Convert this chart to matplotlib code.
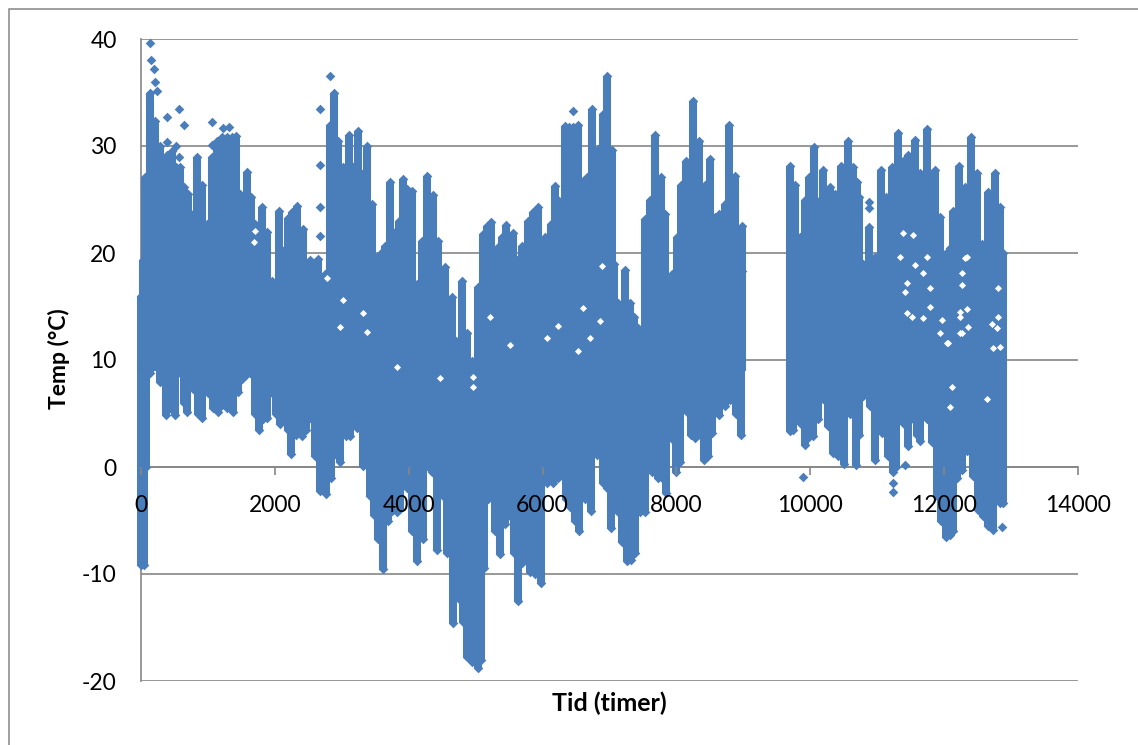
import matplotlib
matplotlib.use('Agg')
import matplotlib.pyplot as plt
from matplotlib.patches import Rectangle
import numpy as np

#warm side of the cloud
warm_hours = [0,30,60,135,210,285,330,390,465,525,585,640,700,775,835,910,985,1060,1135,1210,1285,1360,1420,1480,1585,1645,1705,1810,1880,1955,2060,2120,2195,2255,2330,2420,2525,2585,2645,2750,2825,2885,2945,3020,3110,3165,3240,3300,3375,3450,3525,3585,3645,3720,3795,3855,3915,3975,4050,4125,4200,4275,4365,4435,4540,4645,4705,4795,4870,4945,5035,5110,5170,5230,5335,5395,5455,5560,5615,5690,5780,5855,5930,6035,6125,6185,6245,6335,6395,6455,6530,6605,6665,6740,6830,6900,6960,7035,7065,7125,7230,7305,7365,7425,7530,7605,7680,7770,7830,7935,8010,8070,8140,8245,8335,8425,8500,8575,8635,8725,8785,8875,8980,
              9695,9770,9845,9920,9980,10055,10130,10190,10295,10370,10460,10565,10640,10695,10730,10785,10875,10965,11055,11130,11220,11310,11385,11460,11565,11640,11745,11860,11935,12010,12085,12130,12220,12310,12400,12490,12565,12655,12760,12835,12880]
warm_temp = [16,19.3,27.1,35,32.3,30,26.7,29.2,29.5,28,28,26.2,25.5,23.6,29,26.4,22.7,29,30.5,30.8,30.8,30.8,30.9,25.5,27.6,25.2,22.7,24.3,22,17.4,23.9,20.2,23.3,23.8,24.4,22.2,19.3,18.5,19.4,18,32,35,30.5,28,31,28,31.4,27.4,30,24.6,19.6,20,20.7,26.6,22,23,26.9,26,25.8,17.1,21.1,27.2,25.4,21.1,18.7,15.9,11.8,17.4,12.5,9.9,16.8,21.8,22.5,22.9,20.6,21.5,22.6,21.9,19.3,20.7,23,23.8,24.3,21.5,22.7,26.3,24.9,31.9,31.8,31.8,32,26.7,27.1,33.5,29.7,33,36.5,29.6,19,15.3,18.4,15.3,14,13,23.2,25,31,27.1,23.6,18,21.5,26.4,28.6,34.2,30.5,26.4,28.8,23.4,23.6,24.6,32,27.2,22.5,
             28.1,26.4,21.5,25,27.1,29.9,24.9,27.8,26.2,25.5,28.1,30.5,28,26.6,25.2,19,22.4,19.6,27.8,25.2,28,31.2,28.6,29.2,30.6,27.5,31.6,27.8,23.4,19.9,20.5,23.9,28.1,26.2,30.8,27.5,20.8,25.7,27.5,24.3,20]

#cold side
cold_hours = [0,45,75,135,210,285,375,435,510,585,640,690,775,850,910,1000,1075,1150,1210,1285,1375,1450,1510,1570,1630,1705,1765,1825,1880,1970,2015,2075,2150,2195,2240,2315,2405,2465,2525,2600,2675,2765,2840,2900,2975,3060,3120,3225,3315,3420,3480,3540,3615,3690,3750,3825,3870,3975,4050,4125,4215,4275,4350,4420,4510,4570,4660,4765,4810,4870,4945,5035,5080,5125,5185,5290,5365,5440,5515,5575,5630,5690,5735,5810,5885,5975,6065,6155,6230,6290,6350,6410,6485,6545,6635,6725,6815,6900,6960,7020,7125,7185,7260,7320,7380,7455,7530,7635,7725,7785,7845,7935,7995,8055,8155,8215,8275,8350,8410,8470,8530,8635,8725,8800,8890,8965,
              9695,9740,9785,9860,9920,9980,10040,10115,10190,10265,10340,10415,10505,10590,10680,10730,10785,10890,10965,11070,11160,11230,11280,11340,11400,11460,11530,11590,11640,11745,11815,11890,11950,12025,12085,12130,12190,12265,12340,12430,12505,12580,12655,12730,12790,12835,12880]
cold_temp = [-9.2,-9.2,0,8.8,9.7,7.9,4.9,5.5,4.9,8.8,6,5.1,7.3,5,4.6,6.9,5.5,5.1,5.8,5.5,5.1,7,8.2,8.6,8.8,5,3.5,4.5,4.6,6.8,5,4,6,3.5,1.2,3,2.9,3.5,4.6,1,-2.2,-2.5,-1,1.2,0.5,2.9,2.9,3.6,0.1,-2.7,-4.5,-6.7,-9.5,-5,-4.1,-4.2,-3.9,-2,-6,-8.8,-6.7,0.1,-0.5,-7.8,-2.7,-8,-14.6,-12.4,-14.5,-17.8,-18.2,-18.8,-18,-9.4,-3,-6,-8.1,-5.3,-4.6,-8,-12.5,-9,-5.3,-9.8,-10,-10.8,-1.5,-1.5,-1,-0.7,-3,-3.7,-5,-6,-3,-4.1,1.1,-1.5,-2,-5.7,-4.2,-7,-8.8,-8.7,-8,-4.2,-4.2,-0.5,-1,-1,-2.4,2.6,-0.5,0.5,5.1,3,2.7,3,0.7,1,3.2,4.9,5.7,6.3,5,3,
             3.4,3.5,8,4,2.1,2.8,2.9,4.5,6.4,3.8,1.3,1,0.3,5,0.2,3,6.6,5.7,0.7,3.2,1,-0.5,0,5.4,4,2,4.5,3,2.4,4.5,2.3,-2.7,-5,-6.5,-6.4,-6,-1,-0.3,1.5,-0.8,-4,-4.6,-5.5,-5.9,2,-3.4,-3.4]

#single readings standing clear of the cloud
lone_hours = [135,150,195,210,240,570,390,640,1060,390,525,570,1060,1225,1315,2675,2675,2675,2675,2825,6455,6740,8980,10875,10875,9890,11230,11230,11415,12865]
lone_temp = [39.6,38,37.2,36,35.1,33.5,32.7,32,32.2,30.4,30,29,30.1,31.7,31.8,33.5,28.2,24.3,21.6,36.5,33.3,29,18.3,24.8,24.2,-0.9,-1.5,-2.3,0.2,-5.6]

#holes inside the cloud
hole_hours = [11530,11565,11440,11785,11415,11440,11685,12235,12340,12265,12310,12265,12265,12805,12790,12115,12085,12640,12730,12055,6885,6065,6230,6860,5515,6530,6710,6605,5215,4960,4960,4465,3020,3315,2975,2780,1705,1690,3375,3825,
              11385,11745,11340,11685,11785,11515,11965,11935,12340,12235,12355,12715,12835,12235,12040,12805]
hole_temp = [21.7,18.9,17.2,16.7,16.4,14.4,13.9,14.5,14.8,12.5,19.5,18.1,17,14,13,7.5,5.6,6.4,11.1,11.6,18.8,12.1,13.2,13.6,11.4,10.8,12.1,14.9,14,8.4,7.5,8.3,15.6,14.4,13.1,17.7,22.1,21,12.6,9.3,
             21.9,19.6,19.6,18.1,15,14,13.7,12.5,19.6,14,13.1,13.4,11.2,12.5,11.6,16.7]

x_ticks = [0,2000,4000,6000,8000,10000,12000,14000]
y_ticks = [-20,-10,0,10,20,30,40]

blue = '#4A7EBB'
gray = '#868686'
W, H = 1138.0, 745.0
plt.rcParams['font.family'] = ['Lato', 'DejaVu Sans']
plt.rcParams['axes.unicode_minus'] = False

fig = plt.figure(figsize=(W/100, H/100), dpi=100)
fig.add_artist(Rectangle((9/W, -0.1), 1.2, 1.1-9/H, transform=fig.transFigure, fill=False, ec=gray, lw=1.1))
ax = fig.add_axes([141/W, 1-681/H, (1078-141)/W, (681-39)/H])
ax.set_xlim(0, 14000)
ax.set_ylim(-20, 40)

#the two halves overlap a little so no seam shows between them
ax.vlines(warm_hours, 9.0, warm_temp, color=blue, lw=5.8, capstyle='butt', zorder=3, clip_on=False)
ax.vlines(cold_hours, 9.7, cold_temp, color=blue, lw=5.8, capstyle='butt', zorder=3, clip_on=False)
ax.scatter(warm_hours, warm_temp, marker='D', s=24, color=blue, linewidths=0, zorder=3, clip_on=False)
ax.scatter(cold_hours, cold_temp, marker='D', s=24, color=blue, linewidths=0, zorder=3, clip_on=False)
ax.scatter(lone_hours, lone_temp, marker='D', s=24, color=blue, linewidths=0, zorder=3, clip_on=False)
ax.scatter(hole_hours, hole_temp, marker='D', s=13, color='white', linewidths=0, zorder=4)

ax.set_xticks(x_ticks)
ax.set_yticks(y_ticks)
ax.grid(axis='y', color=gray, lw=1.2, zorder=1)
ax.set_axisbelow(True)
ax.xaxis.set_zorder(5)
for s in ['top', 'right']:
    ax.spines[s].set_visible(False)
ax.spines['left'].set_color(gray)
ax.spines['left'].set_linewidth(1.2)
ax.spines['bottom'].set_position(('data', 0))
ax.spines['bottom'].set_color(gray)
ax.spines['bottom'].set_linewidth(1.2)
ax.spines['bottom'].set_zorder(1)
ax.spines['left'].set_zorder(1)
ax.tick_params(axis='x', length=6, width=1.2, color=gray, labelsize=16.5, pad=14, labelcolor='black')
ax.tick_params(axis='y', length=0, labelsize=16.5, pad=17.5, labelcolor='black')

fig.text(609/W, 1-703/H, 'Tid (timer)', ha='center', va='center', fontsize=18, fontweight='bold')
fig.text(59/W, 1-359/H, 'Temp (°C)', ha='center', va='center', rotation=90, fontsize=16.5, fontweight='bold')

fig.savefig('out.png', dpi=100)
